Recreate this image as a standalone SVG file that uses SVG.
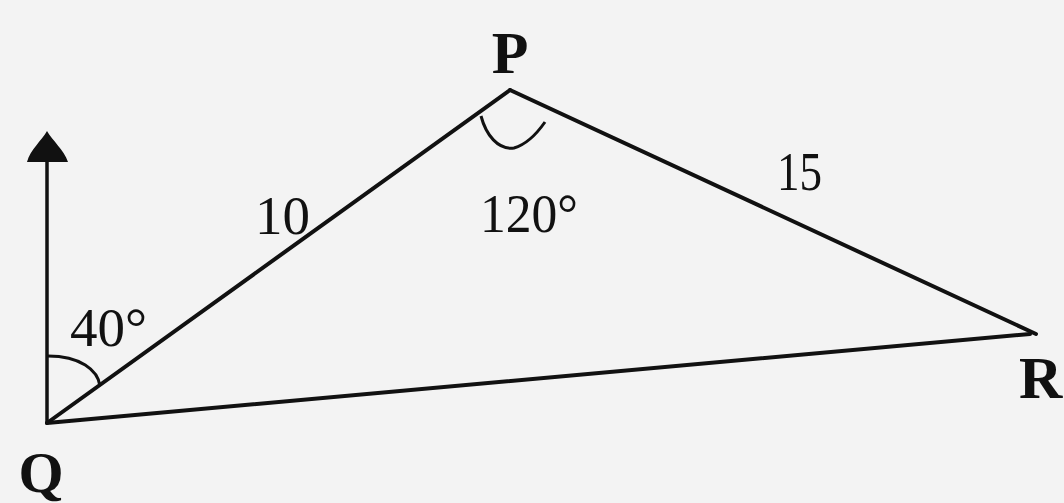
<svg xmlns="http://www.w3.org/2000/svg" width="1064" height="503" viewBox="0 0 1064 503">
<style>
.ln{stroke:#111;stroke-width:4;fill:none;stroke-linecap:round;stroke-linejoin:round}
.arc{stroke:#111;stroke-width:3;fill:none}
.lbl{font-family:"Liberation Serif",serif;font-weight:bold;fill:#111}
.num{font-family:"Liberation Serif",serif;fill:#111}
</style>
<rect width="1064" height="503" fill="#f3f3f3"/>
<g id="connectors">
<line class="ln" x1="47" y1="423" x2="510" y2="90"/>
<line class="ln" x1="510" y1="90" x2="1036" y2="334"/>
<line class="ln" x1="47" y1="423" x2="1030" y2="334"/>
<line x1="47" y1="423" x2="47" y2="160" stroke="#111" stroke-width="3.5"/>
<path d="M47,131 C42,140 30,150 27,162 L68,162 C64,150 52,140 47,131 Z" fill="#111"/>
<path class="arc" d="M48,356 C80,356 98,370 100,386"/>
<path class="arc" d="M481,116 C486,135 498,150 514,148 C528,144 538,132 545,122"/>
</g>
<g id="P"><text class="lbl" x="510" y="73" font-size="60" text-anchor="middle">P</text></g>
<g id="Q"><text class="lbl" x="41" y="492" font-size="58" text-anchor="middle">Q</text></g>
<g id="R"><text class="lbl" x="1019" y="398" font-size="60">R</text></g>
<g id="labels">
<text class="num" x="255" y="234" font-size="54" textLength="55" lengthAdjust="spacingAndGlyphs">10</text>
<text class="num" x="777" y="190" font-size="54" textLength="45" lengthAdjust="spacingAndGlyphs">15</text>
<text class="num" x="480" y="232" font-size="54" textLength="98" lengthAdjust="spacingAndGlyphs">120°</text>
<text class="num" x="70" y="346" font-size="54" textLength="77" lengthAdjust="spacingAndGlyphs">40°</text>
</g>
</svg>
